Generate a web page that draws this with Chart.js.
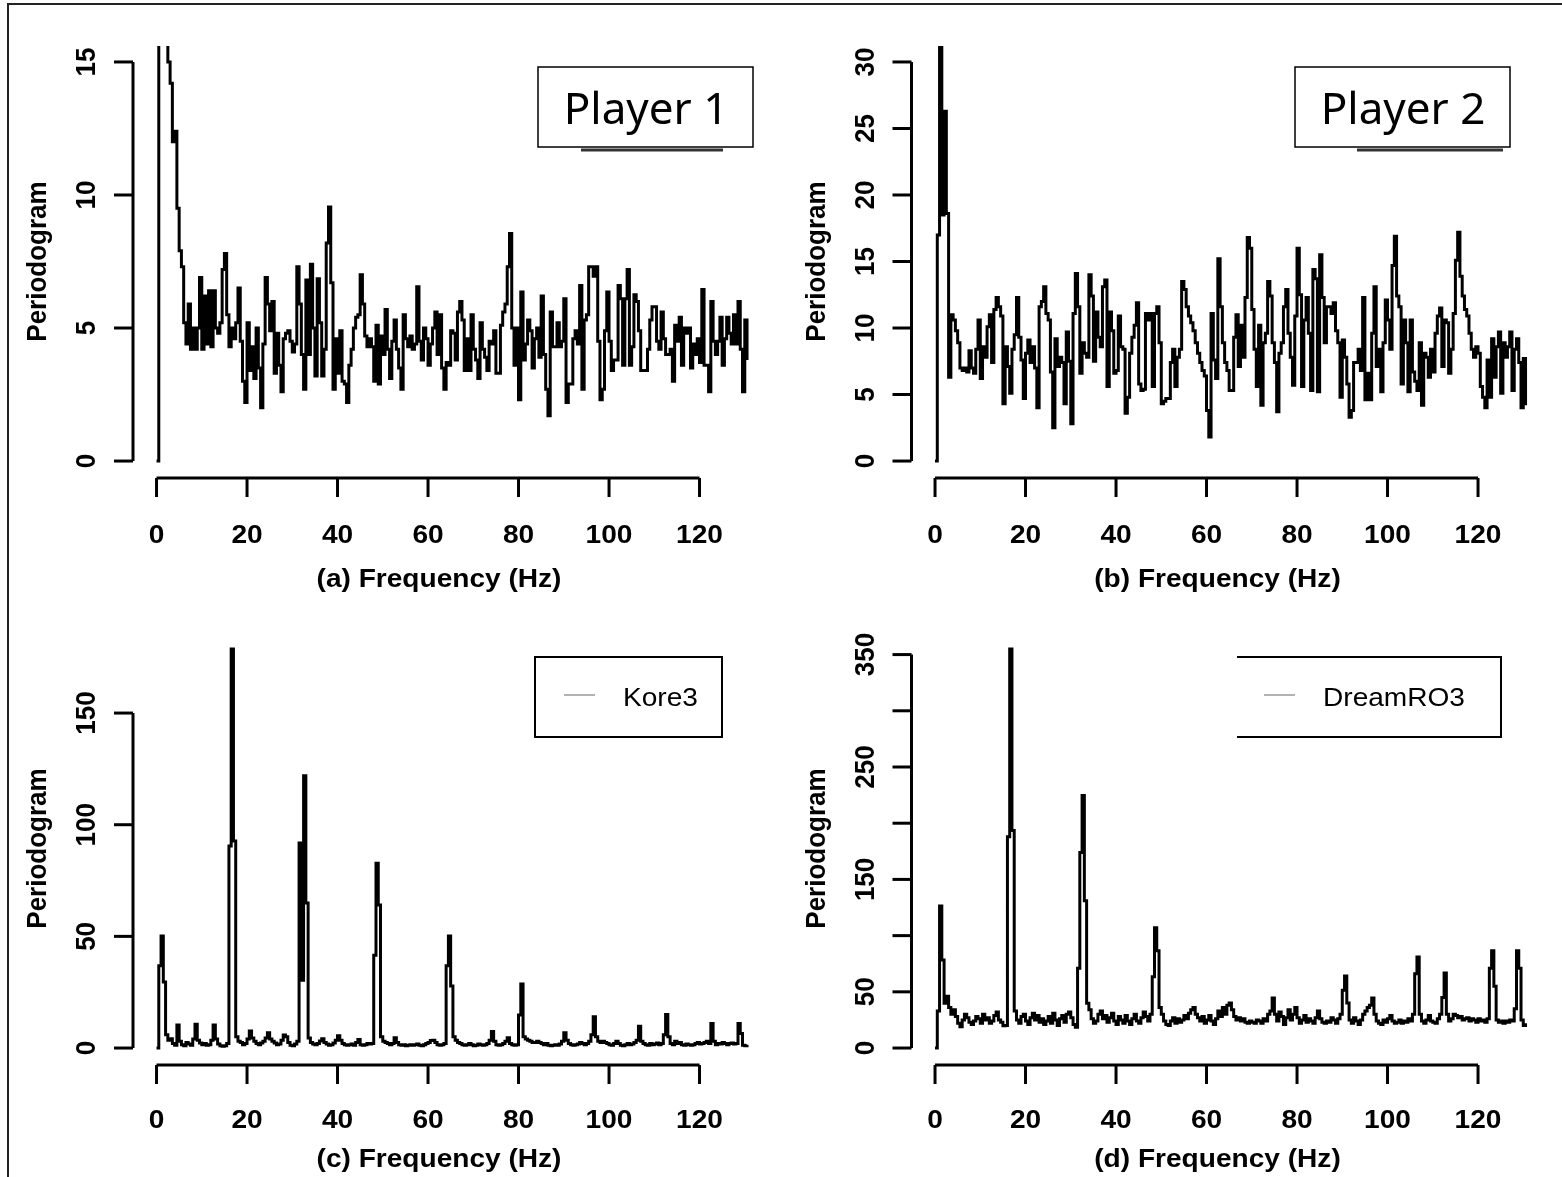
<!DOCTYPE html>
<html>
<head>
<meta charset="utf-8">
<script src="https://cdn.jsdelivr.net/npm/chart.js@4.4.1/dist/chart.umd.min.js"></script>
<style>
  html, body { margin: 0; padding: 0; background: #fff; }
  #page { position: relative; width: 1562px; height: 1177px; overflow: hidden; background: #fff; }
  #frame { position: absolute; left: 7px; top: 3px; width: 1600px; height: 1300px;
           border-top: 2px solid #222; border-left: 2px solid #222; }
  canvas { position: absolute; left: 0; top: 0; }
</style>
</head>
<body>
<div id="page">
  <div id="frame"></div>
  <canvas id="chartA" width="1562" height="1177"></canvas>
  <canvas id="chartB" width="1562" height="1177"></canvas>
  <canvas id="chartC" width="1562" height="1177"></canvas>
  <canvas id="chartD" width="1562" height="1177"></canvas>
</div>
<script>
// Periodogram values, one every 0.5 Hz starting at 0 Hz
const freqStep = 0.5;

const player1 = [
  0, 18, 16.5, 17, 18, 15, 14.2, 12, 12.4, 9.5,
  7.9, 7.3, 5.2, 4.4, 5.9, 4.2, 5.0, 4.2, 5.0, 6.9,
  4.2, 6.2, 4.4, 6.4, 4.3, 6.4, 5.0, 4.8, 5.2, 7.2,
  7.8, 5.5, 4.3, 5.0, 4.6, 5.2, 6.5, 4.5, 3.0, 2.2,
  5.2, 3.4, 4.3, 3.1, 5.0, 3.5, 2.0, 4.4, 6.9, 5.9,
  4.9, 6.0, 3.3, 4.8, 3.6, 2.6, 4.6, 4.8, 4.9, 4.5,
  4.1, 4.4, 7.3, 5.9, 4.0, 2.7, 6.8, 4.0, 7.4, 5.0,
  3.2, 6.85, 5.2, 3.2, 4.2, 8.2, 9.55, 6.7, 2.7, 4.6,
  3.3, 4.9, 3.0, 2.9, 2.2, 3.6, 4.2, 5.0, 5.4, 5.5,
  7.0, 5.9, 4.7, 4.3, 4.6, 4.3, 3.0, 5.1, 2.9, 4.7,
  4.0, 5.7, 4.2, 3.1, 4.5, 5.3, 4.2, 3.5, 2.7, 5.5,
  4.6, 4.3, 4.7, 4.2, 4.4, 6.55, 4.5, 3.8, 5.0, 4.6,
  3.6, 4.4, 5.0, 5.6, 4.0, 5.5, 3.5, 2.7, 3.7, 3.6,
  4.9, 4.8, 3.8, 5.6, 6.0, 5.3, 3.4, 4.6, 3.4, 5.5,
  4.2, 3.8, 3.1, 5.2, 4.2, 3.9, 3.4, 4.5, 4.4, 4.9,
  3.3, 3.3, 5.1, 5.6, 5.9, 7.3, 8.55, 5.0, 3.6, 5.0,
  2.3, 6.35, 3.8, 4.4, 5.3, 4.9, 3.5, 4.6, 5.0, 3.9,
  6.2, 4.0, 2.7, 1.7, 5.6, 4.3, 4.3, 5.2, 4.3, 4.5,
  6.1, 2.2, 2.9, 2.9, 4.6, 4.9, 4.4, 6.6, 2.7, 5.3,
  5.5, 7.3, 7.3, 6.95, 7.3, 4.5, 2.3, 2.7, 4.9, 6.35,
  4.5, 3.4, 3.8, 3.8, 6.6, 6.1, 3.6, 6.1, 7.2, 3.6,
  4.3, 6.25, 6.0, 4.9, 3.4, 3.4, 3.4, 4.2, 5.3, 5.8,
  5.8, 4.5, 4.2, 5.6, 4.6, 4.0, 4.0, 4.2, 3.0, 5.1,
  4.5, 5.4, 3.6, 5.0, 4.8, 5.0, 3.5, 4.4, 4.0, 4.6,
  3.7, 6.45, 3.6, 3.6, 2.6, 6.0, 4.5, 4.0, 4.5, 5.4,
  3.6, 4.6, 5.4, 4.8, 4.4, 5.5, 4.4, 6.0, 4.2, 2.6,
  5.3, 3.8
];

const player2 = [
  0, 17, 31.5, 18.5, 26.3, 18.6, 6.3, 11.0, 10.6, 9.8,
  8.9, 7.0, 6.8, 7.0, 6.7, 8.3, 7.0, 6.6, 8.4, 10.6,
  6.2, 8.6, 7.8, 10.1, 11.0, 7.4, 11.4, 12.3, 11.6, 10.9,
  4.3, 8.6, 7.1, 5.1, 8.4, 9.5, 12.3, 9.3, 7.6, 4.7,
  8.1, 9.1, 7.4, 8.6, 7.0, 4.0, 11.6, 12.0, 13.1, 11.1,
  10.6, 6.7, 2.5, 9.2, 7.1, 7.8, 7.4, 4.3, 9.7, 7.5,
  2.8, 11.1, 14.1, 11.6, 6.6, 8.9, 8.1, 7.8, 14.0, 12.4,
  7.5, 11.2, 9.3, 8.6, 13.1, 13.6, 5.6, 11.2, 9.8, 6.6,
  6.8, 10.9, 8.6, 8.4, 3.6, 4.8, 8.1, 9.3, 10.2, 11.9,
  5.8, 5.3, 5.4, 11.1, 10.6, 11.1, 5.6, 11.1, 11.6, 8.9,
  4.3, 4.5, 4.7, 4.7, 7.4, 8.4, 5.6, 7.8, 8.4, 13.5,
  12.9, 11.6, 10.9, 10.4, 9.8, 8.9, 8.1, 7.4, 6.8, 6.4,
  3.8, 1.8, 11.1, 7.6, 6.2, 15.2, 11.6, 8.9, 7.4, 6.8,
  5.3, 5.3, 9.3, 11.0, 7.1, 10.2, 7.8, 12.3, 16.8, 16.0,
  11.4, 8.4, 5.6, 10.2, 4.2, 8.9, 9.6, 13.5, 12.4, 8.9,
  7.4, 3.7, 8.1, 8.9, 11.6, 12.9, 9.6, 7.8, 5.7, 10.9,
  16.0, 12.5, 5.6, 10.6, 12.3, 9.6, 5.3, 14.4, 13.7, 5.2,
  15.5, 12.3, 8.9, 11.6, 11.6, 11.1, 11.9, 9.8, 8.9, 4.8,
  9.1, 7.8, 5.8, 3.3, 3.8, 7.4, 7.4, 8.4, 6.8, 12.3,
  4.6, 6.6, 4.6, 9.6, 13.1, 7.1, 8.4, 5.2, 8.9, 12.1,
  10.6, 8.4, 14.7, 16.9, 12.4, 11.6, 5.8, 10.6, 8.9, 5.2,
  10.6, 6.7, 6.0, 5.3, 8.9, 4.2, 8.1, 7.8, 6.3, 8.4,
  6.7, 9.6, 10.9, 11.5, 7.1, 10.6, 10.4, 6.6, 8.4, 11.1,
  15.1, 17.2, 13.9, 12.4, 11.4, 10.9, 9.6, 8.4, 7.8, 8.6,
  8.1, 5.6, 4.8, 4.0, 7.6, 4.8, 9.2, 6.3, 8.6, 9.7,
  5.1, 8.9, 7.8, 8.6, 9.7, 5.3, 8.4, 9.2, 7.4, 4.0,
  7.7, 4.2
];

const kore3 = [
  0, 36.8, 50.2, 29.6, 6, 3.5, 4.2, 2, 1.2, 10.3,
  3, 1.5, 1, 2.5, 1.8, 1.2, 4, 10.7, 3.5, 2.2,
  1.5, 2, 1.2, 1.5, 3.5, 10.3, 4, 1.8, 1, 0.8,
  1, 2, 90.5, 178.7, 92.7, 5, 3, 2.5, 1.5, 2,
  4, 7.6, 4.5, 3, 2, 1.5, 2.2, 3, 4.5, 6.8,
  4, 3, 2.2, 1.5, 1.8, 3.5, 5.8, 5, 2.5, 1.2,
  1, 1.8, 3, 91.8, 30.4, 121.9, 65, 4.5, 2.5, 1.8,
  1.5, 2, 3.2, 4.2, 2.5, 1.8, 1.2, 1.5, 2.2, 3.5,
  5.5, 3.5, 2, 1.5, 1.2, 1.5, 1.8, 1.2, 2.5, 3.8,
  1.5, 1.2, 1.5, 2, 1.8, 2, 41.6, 82.8, 64, 5,
  3, 2.5, 2, 1.5, 2, 4.6, 2.5, 1.5, 1.2, 1.5,
  1, 1.2, 1.5, 1.2, 1.5, 1.8, 1.2, 1, 1.5, 2,
  2.5, 3.4, 3.5, 2.5, 1.5, 1.2, 1.5, 2, 36.8, 50.2,
  27.8, 5, 3.5, 2.5, 2, 1.5, 1.2, 1.5, 2, 1.5,
  1, 1.2, 1.8, 1.5, 1.2, 1.5, 2, 3.5, 7.4, 3,
  1.5, 1.2, 1.5, 2, 3, 4.6, 2, 1.5, 1.2, 1.5,
  14.8, 28.7, 5, 4, 3.5, 3, 2.5, 2.5, 3, 2.5,
  2, 1.5, 2, 1.2, 1, 1.2, 1.5, 1.2, 1.8, 3,
  6.8, 3.5, 2, 1.5, 1.2, 1.5, 1.8, 2.5, 2, 1.5,
  2, 3, 6, 14, 5, 3, 2.5, 3, 2.5, 2,
  1.5, 1.2, 2, 3, 2, 1.2, 1, 1.5, 2, 1.5,
  1.8, 2.5, 3.5, 9.8, 3, 2, 1.5, 1.2, 2, 1.5,
  1.8, 2.2, 1.5, 2, 6, 15, 5, 2, 1.5, 3,
  2, 2.5, 1.5, 1.2, 1.8, 1.5, 1.2, 1.5, 2, 2.5,
  1.8, 2, 2.5, 3, 2, 11, 3, 1.5, 2, 1.8,
  2.5, 2, 1.5, 2, 2.2, 1.8, 2, 11, 6.5, 1.2,
  1, 1.5
];

const dreamRO3 = [
  0, 33, 126.4, 78.4, 39.8, 46, 36, 30, 34, 28,
  22, 19, 25, 30, 27, 23, 21, 24, 28, 26,
  22, 30, 25, 27, 22, 24, 29, 32, 25, 23,
  19.8, 20, 188, 355, 193.6, 33, 25, 22, 28, 30,
  24, 21, 27, 31, 25, 29, 23, 26, 21, 24,
  28, 22, 31, 25, 20, 26, 29, 23, 30, 32,
  27, 21, 18.6, 71, 174, 224.7, 131, 39.8, 34, 26,
  22, 24, 30, 33, 26, 29, 23, 27, 31, 24,
  21, 28, 25, 22, 29, 24, 21, 26, 30, 24,
  22, 27, 32, 28, 24, 30, 63.5, 106.9, 86.6, 36,
  30, 24, 21, 20, 24, 27, 22, 26, 23, 25,
  29, 26, 31, 34, 36, 30, 27, 24, 28, 22,
  25, 29, 24, 21, 26, 33, 28, 36, 30, 38,
  40, 34, 28, 25, 27, 24, 26, 23, 22, 24,
  23, 22, 25, 24, 22, 26, 24, 30, 33, 44.5,
  30, 24, 32, 28, 21, 27, 34, 25, 30, 36,
  27, 22, 25, 29, 23, 26, 24, 22, 27, 33,
  26, 23, 22, 24, 23, 27, 25, 22, 26, 30,
  51.3, 64, 40, 25, 22, 27, 24, 21, 25, 30,
  33, 36, 38, 44.5, 30, 24, 22, 21, 25, 23,
  26, 29, 24, 22, 23, 25, 22, 24, 23, 26,
  24, 30, 66, 81, 30, 24, 22, 25, 29, 24,
  23, 22, 26, 30, 45, 66.8, 30, 24, 26, 30,
  29, 27, 28, 25, 26, 27, 24, 26, 25, 23,
  26, 24, 25, 23, 26, 71, 86.6, 55, 25, 23,
  24, 22, 24, 23, 25, 24, 35, 86.6, 71, 25,
  20, 22
];

// Axis ticks
const freqTicks = [0, 20, 40, 60, 80, 100, 120];
const ticksA = [0, 5, 10, 15];
const ticksB = [0, 5, 10, 15, 20, 25, 30];
const ticksC = [0, 50, 100, 150];
const ticksD = [0, 50, 100, 150, 200, 250, 300, 350];
const labelsD = [0, 50, 150, 250, 350];

const boldFont = 'bold 26px "Liberation Sans", Arial, sans-serif';
const plainFont = '26px "Liberation Sans", Arial, sans-serif';

function line(ctx, x1, y1, x2, y2) {
    ctx.beginPath();
    ctx.moveTo(x1, y1);
    ctx.lineTo(x2, y2);
    ctx.stroke();
}

// text with the slightly wide look of the old R device
function rText(ctx, text, x, y, font, rotated) {
    ctx.save();
    ctx.translate(x, y);
    ctx.scale(1.08, 1);
    if (rotated) ctx.rotate(-Math.PI / 2);
    ctx.font = font;
    ctx.textAlign = 'center';
    ctx.textBaseline = 'alphabetic';
    ctx.fillText(text, 0, 0);
    ctx.restore();
}

// R style axes: lines only span the ticks and sit outside the data
const rAxes = {
    id: 'rAxes',
    afterDraw(chart, args, o) {
        const { ctx, chartArea: a, scales: { x, y } } = chart;
        ctx.save();
        ctx.strokeStyle = '#000';
        ctx.fillStyle = '#000';
        ctx.lineWidth = 3;

        const xb = a.bottom + 1;
        line(ctx, x.getPixelForValue(freqTicks[0]), xb, x.getPixelForValue(freqTicks[freqTicks.length - 1]), xb);
        freqTicks.forEach(t => {
            const px = x.getPixelForValue(t);
            line(ctx, px, xb, px, xb + 19);
            rText(ctx, String(t), px, a.bottom + o.labelGap, boldFont, false);
        });
        rText(ctx, o.xTitle, a.left + 306, a.bottom + o.titleGap, boldFont, false);

        const yl = a.left;
        line(ctx, yl, y.getPixelForValue(o.yTicks[0]), yl, y.getPixelForValue(o.yTicks[o.yTicks.length - 1]));
        o.yTicks.forEach(t => {
            const py = y.getPixelForValue(t);
            line(ctx, yl, py, yl - 19, py);
        });
        (o.yLabels || o.yTicks).forEach(t => {
            rText(ctx, String(t), yl - 38, y.getPixelForValue(t), boldFont, true);
        });
        rText(ctx, 'Periodogram', yl - 87, (a.top + a.bottom) / 2, boldFont, true);

        if (o.legend) o.legend(ctx);
        ctx.restore();
    }
};

function playerLabel(text, bx, under) {
    return function (ctx) {
        // edge of the legend frame underneath the label
        ctx.strokeStyle = '#333';
        ctx.lineWidth = 3;
        line(ctx, under[0], 150, under[1], 150);
        ctx.fillStyle = '#fff';
        ctx.fillRect(bx, 67, 215, 80);
        ctx.strokeStyle = '#000';
        ctx.lineWidth = 1.5;
        ctx.strokeRect(bx, 67, 215, 80);
        ctx.fillStyle = '#000';
        ctx.font = '44px "Noto Sans", sans-serif';
        ctx.textAlign = 'center';
        ctx.textBaseline = 'alphabetic';
        ctx.fillText(text, bx + 108, 124);
    };
}

function seriesLegend(text, left, right, sample, textX, closed) {
    return function (ctx) {
        ctx.strokeStyle = '#000';
        ctx.lineWidth = 2;
        ctx.beginPath();
        if (closed) {
            ctx.rect(left, 657, right - left, 80);
        } else {
            ctx.moveTo(left, 657);
            ctx.lineTo(right, 657);
            ctx.lineTo(right, 737);
            ctx.lineTo(left, 737);
        }
        ctx.stroke();
        ctx.strokeStyle = '#999';
        ctx.lineWidth = 1.5;
        line(ctx, sample, 695, sample + 31, 695);
        ctx.fillStyle = '#000';
        ctx.save();
        ctx.translate(textX, 706);
        ctx.scale(1.08, 1);
        ctx.font = plainFont;
        ctx.textAlign = 'left';
        ctx.fillText(text, 0, 0);
        ctx.restore();
    };
}

function toPoints(values) {
    return values.map((v, i) => ({ x: i * freqStep, y: v }));
}

function makeChart(id, values, yTop, opts, left, top) {
    const pxPerHz = 4.525;
    const width = 140.4 * pxPerHz;
    return new Chart(document.getElementById(id), {
        type: 'line',
        data: {
            datasets: [{
                data: toPoints(values),
                borderColor: '#000',
                borderWidth: 3,
                pointRadius: 0,
                stepped: true,
                fill: false
            }]
        },
        options: {
            responsive: false,
            animation: false,
            devicePixelRatio: 1,
            layout: {
                padding: { left: left, top: top, right: 1562 - left - width, bottom: 1177 - top - 431 }
            },
            scales: {
                x: { type: 'linear', min: -5.2, max: 135.2, display: false },
                y: { type: 'linear', min: -0.04 * yTop, max: 1.04 * yTop, display: false }
            },
            plugins: {
                legend: { display: false },
                tooltip: { enabled: false },
                rAxes: opts
            }
        },
        plugins: [rAxes]
    });
}

makeChart('chartA', player1, 15, {
    xTitle: '(a) Frequency (Hz)', yTicks: ticksA, labelGap: 66, titleGap: 110,
    legend: playerLabel('Player 1', 538, [581, 723])
}, 133, 46);

makeChart('chartB', player2, 30, {
    xTitle: '(b) Frequency (Hz)', yTicks: ticksB, labelGap: 66, titleGap: 110,
    legend: playerLabel('Player 2', 1295, [1357, 1503])
}, 911.5, 46);

makeChart('chartC', kore3, 178.7, {
    xTitle: '(c) Frequency (Hz)', yTicks: ticksC, labelGap: 64, titleGap: 103,
    legend: seriesLegend('Kore3', 535, 722, 564, 623, true)
}, 133, 633);

makeChart('chartD', dreamRO3, 355, {
    xTitle: '(d) Frequency (Hz)', yTicks: ticksD, yLabels: labelsD, labelGap: 64, titleGap: 103,
    legend: seriesLegend('DreamRO3', 1237, 1501, 1264, 1323, false)
}, 911.5, 633);
</script>
</body>
</html>
